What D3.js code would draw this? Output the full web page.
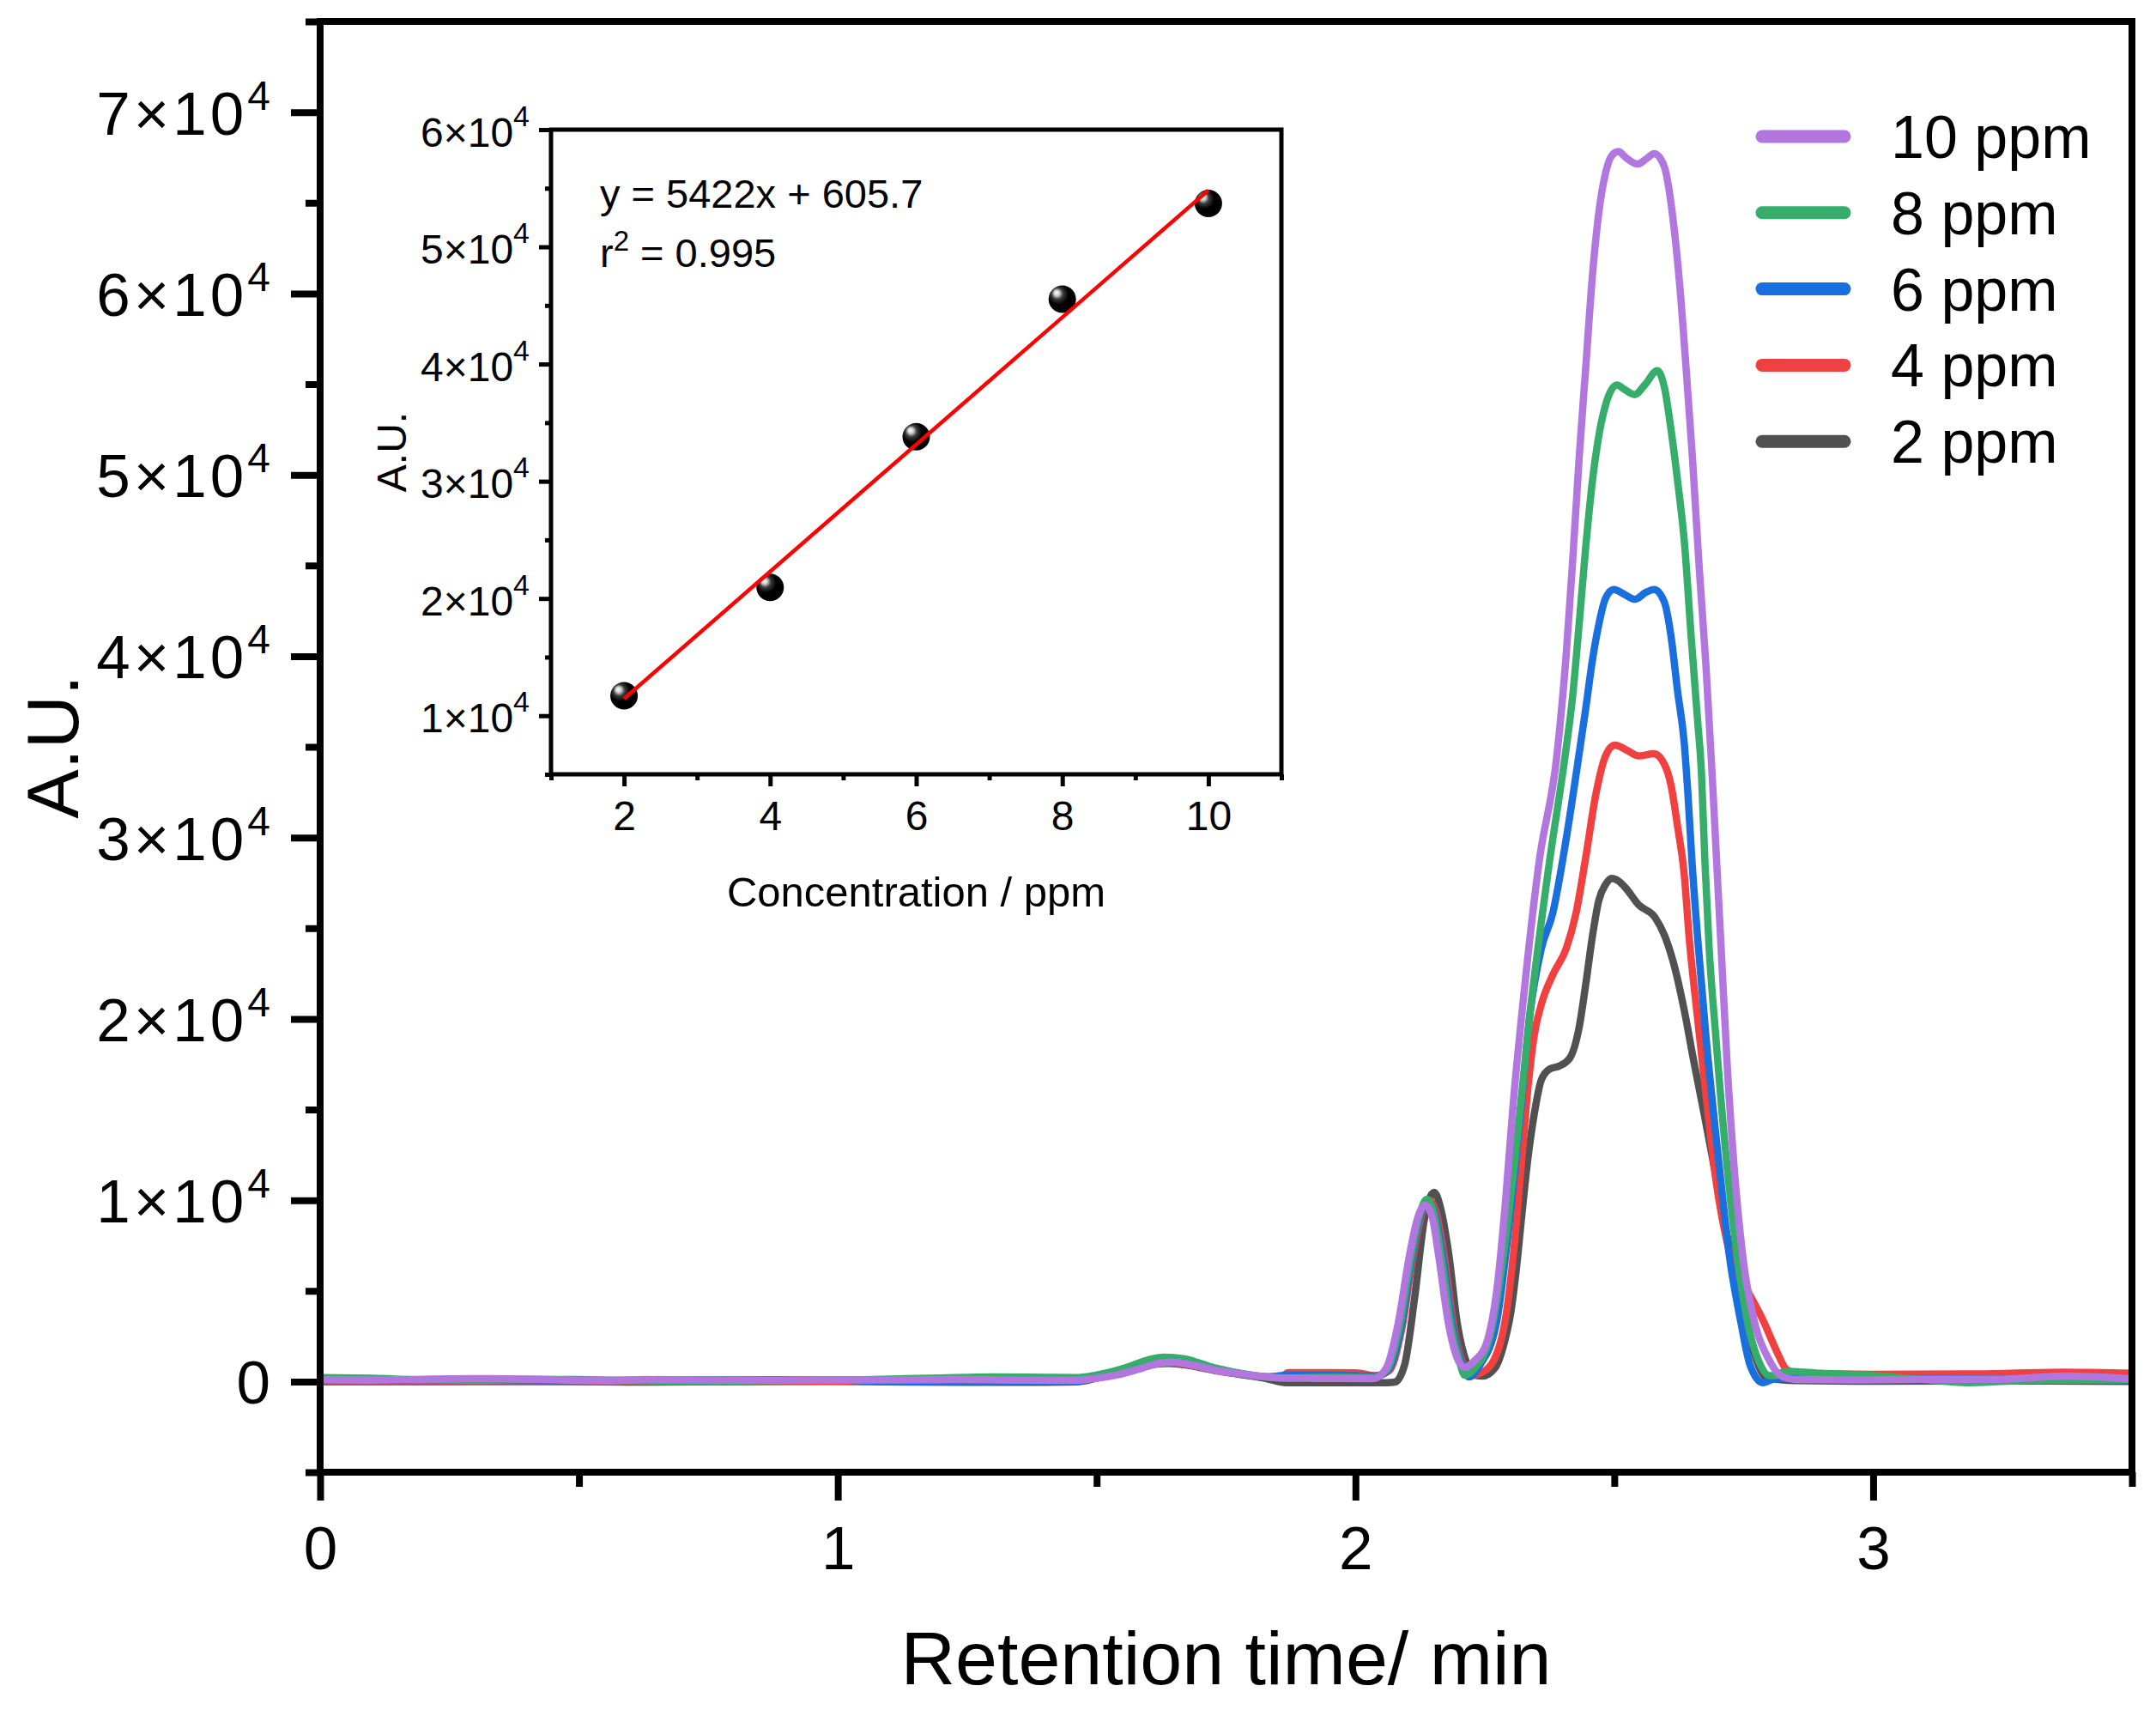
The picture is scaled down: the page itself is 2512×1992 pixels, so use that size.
<!DOCTYPE html>
<html>
<head>
<meta charset="utf-8">
<script src="https://cdn.jsdelivr.net/npm/d3@7"></script>
<style>
  html, body { margin: 0; padding: 0; background: #fff; }
  svg { display: block; font-family: "Liberation Sans", Arial, sans-serif; }
</style>
</head>
<body>
<div id="chart"></div>
<script>
// ---- Chromatogram data: [retention time (min), signal (A.U.)] ----
const ppm10 = [
  [0, 100], [0.1, 80], [0.2, 130], [0.3, 160], [0.4, 140], [0.5, 70], [0.56, 40], [0.63, 110],
  [0.72, 90], [0.9, 80], [1.1, 90], [1.25, 110], [1.36, 80], [1.46, 70], [1.5, 180], [1.54, 365],
  [1.59, 760], [1.62, 1000], [1.645, 1075], [1.69, 880], [1.733, 600], [1.78, 420], [1.816, 290],
  [1.866, 190], [1.95, 170], [2.035, 160], [2.06, 770], [2.082, 3140], [2.105, 7070], [2.121, 9100],
  [2.135, 9720], [2.148, 9100], [2.16, 7070], [2.18, 3140], [2.197, 1250], [2.211, 770], [2.23, 1150],
  [2.252, 2020], [2.275, 5510], [2.29, 10000], [2.305, 15420], [2.324, 20990], [2.355, 28710],
  [2.389, 34500], [2.407, 40070], [2.419, 45000], [2.432, 50900], [2.445, 56000], [2.458, 61080],
  [2.47, 64440], [2.483, 66630], [2.495, 67600], [2.508, 67830], [2.522, 67500], [2.545, 67140],
  [2.563, 67450], [2.577, 67710], [2.59, 67400], [2.598, 66860], [2.613, 64210], [2.626, 60580],
  [2.639, 55750], [2.651, 50920], [2.664, 44890], [2.677, 39500], [2.688, 34000], [2.698, 28500],
  [2.708, 23000], [2.718, 17500], [2.731, 12000], [2.75, 6500], [2.769, 3500], [2.797, 1300],
  [2.826, 250], [2.85, 110], [2.95, 90], [3.1, 120], [3.25, 130], [3.37, 300], [3.43, 250], [3.5, 150]
];
const ppm8 = [
  [0, 220], [0.1, 180], [0.2, 90], [0.3, 70], [0.4, 110], [0.5, 110], [0.58, 60], [0.7, 20],
  [0.8, 30], [0.9, 60], [1.05, 100], [1.2, 200], [1.3, 250], [1.4, 230], [1.46, 220], [1.51, 420],
  [1.56, 800], [1.6, 1200], [1.63, 1340], [1.67, 1250], [1.72, 820], [1.78, 450], [1.83, 240],
  [1.87, 190], [1.95, 240], [2.035, 220], [2.062, 700], [2.085, 3000], [2.108, 7000], [2.125, 9300],
  [2.138, 10050], [2.151, 9300], [2.165, 7000], [2.185, 3000], [2.2, 1200], [2.211, 350], [2.229, 680],
  [2.261, 2620], [2.286, 6980], [2.311, 13000], [2.337, 20250], [2.375, 28710], [2.405, 34500],
  [2.419, 37650], [2.432, 41740], [2.445, 46080], [2.458, 49720], [2.47, 52140], [2.483, 53840],
  [2.505, 54950], [2.52, 54700], [2.539, 54420], [2.56, 55000], [2.583, 55750], [2.597, 54790],
  [2.609, 52610], [2.622, 49720], [2.636, 46080], [2.648, 41260], [2.661, 36420], [2.668, 33770],
  [2.675, 28700], [2.683, 24000], [2.696, 19050], [2.718, 11810], [2.737, 6980], [2.757, 3340],
  [2.782, 930], [2.8, 320], [2.81, 320], [2.83, 560], [2.9, 450], [2.97, 380], [3.09, 120],
  [3.19, -60], [3.3, 65], [3.5, 100]
];
const ppm6 = [
  [0, 60], [0.15, 70], [0.3, 60], [0.45, 40], [0.6, 80], [0.8, 100], [1.0, 90], [1.1, -20],
  [1.25, -30], [1.35, 20], [1.46, 20], [1.51, 330], [1.56, 700], [1.6, 1000], [1.64, 1100],
  [1.68, 950], [1.73, 650], [1.78, 400], [1.83, 250], [1.87, 350], [1.95, 350], [2.04, 300],
  [2.065, 700], [2.088, 3000], [2.11, 7000], [2.127, 9300], [2.14, 9950], [2.153, 9300],
  [2.168, 7000], [2.188, 3000], [2.205, 1000], [2.219, 250], [2.241, 930], [2.273, 3340],
  [2.295, 8180], [2.317, 14220], [2.337, 20250], [2.359, 23870], [2.381, 25820], [2.407, 29910],
  [2.433, 34800], [2.445, 37150], [2.458, 39830], [2.47, 41740], [2.483, 43190], [2.499, 43680],
  [2.52, 43400], [2.54, 43140], [2.56, 43500], [2.577, 43680], [2.597, 42950], [2.61, 41010],
  [2.622, 38120], [2.635, 35230], [2.642, 32500], [2.65, 28710], [2.662, 24110], [2.677, 19050],
  [2.703, 11810], [2.722, 6980], [2.744, 3340], [2.762, 930], [2.787, -60], [2.81, 150],
  [2.9, 200], [3.0, 180], [3.2, 150], [3.4, 80], [3.5, 60]
];
const ppm4 = [
  [0, 0], [0.15, -20], [0.3, 0], [0.45, -10], [0.6, 20], [0.75, -20], [0.9, 10], [1.05, -10],
  [1.2, 30], [1.35, 50], [1.46, 40], [1.51, 300], [1.56, 650], [1.6, 950], [1.64, 1050],
  [1.68, 900], [1.73, 620], [1.78, 400], [1.83, 260], [1.858, 300], [1.87, 490], [1.95, 490],
  [2.0, 480], [2.04, 330], [2.065, 600], [2.09, 3000], [2.112, 7000], [2.13, 9400], [2.143, 10000],
  [2.156, 9300], [2.171, 7000], [2.19, 3000], [2.207, 1000], [2.222, 320], [2.254, 680],
  [2.286, 2860], [2.305, 6980], [2.32, 11810], [2.333, 16160], [2.345, 19050], [2.361, 20990],
  [2.381, 22420], [2.407, 23870], [2.426, 25820], [2.445, 28940], [2.464, 32330], [2.483, 34500],
  [2.501, 35100], [2.525, 34800], [2.547, 34500], [2.576, 34620], [2.597, 34020], [2.61, 32820],
  [2.622, 30650], [2.635, 27980], [2.645, 24350], [2.66, 20250], [2.674, 16630], [2.693, 11810],
  [2.724, 6980], [2.757, 5040], [2.788, 3340], [2.814, 1650], [2.832, 680], [2.85, 450],
  [3.0, 400], [3.2, 420], [3.37, 520], [3.42, 500], [3.5, 450]
];
const ppm2 = [
  [0, -20], [0.2, -10], [0.4, 20], [0.6, -30], [0.8, -10], [1.0, 20], [1.2, -30], [1.4, -40],
  [1.46, -20], [1.51, 250], [1.56, 600], [1.6, 900], [1.64, 1000], [1.68, 880], [1.73, 600],
  [1.78, 380], [1.83, 150], [1.866, -60], [1.95, -60], [2.06, -60], [2.076, -30], [2.095, 930],
  [2.114, 4560], [2.133, 8920], [2.152, 10430], [2.165, 9500], [2.18, 7070], [2.197, 3140],
  [2.215, 1000], [2.226, 400], [2.245, 300], [2.27, 770], [2.288, 2200], [2.3, 3800], [2.31, 6000],
  [2.32, 8800], [2.333, 12280], [2.345, 14690], [2.359, 16630], [2.375, 17230], [2.394, 17400],
  [2.414, 17830], [2.432, 19520], [2.445, 21940], [2.458, 24600], [2.47, 26530], [2.483, 27400],
  [2.495, 27740], [2.508, 27600], [2.521, 27250], [2.547, 26290], [2.579, 25580], [2.597, 24600],
  [2.616, 22910], [2.635, 20490], [2.654, 17590], [2.674, 14690], [2.693, 11810], [2.712, 8920],
  [2.731, 6240], [2.75, 3820], [2.769, 1650], [2.795, 200], [2.85, 50], [3.0, 20], [3.3, 30], [3.5, 0]
];

// Series in drawing order (last one ends on top)
const seriesNames = ["2 ppm", "4 ppm", "6 ppm", "8 ppm", "10 ppm"];
const seriesData = [ppm2, ppm4, ppm6, ppm8, ppm10];
const seriesColors = ["#515151", "#F14040", "#1A6FDF", "#37AD6B", "#B177DE"];

// Main axes
const xDomain = [0, 3.5];
const yDomain = [-5000, 75000];
const xMajor = [0, 1, 2, 3];
const xMinor = [0.5, 1.5, 2.5, 3.5];
const yMajor = [0, 10000, 20000, 30000, 40000, 50000, 60000, 70000];
const yMinor = [-5000, 5000, 15000, 25000, 35000, 45000, 55000, 65000, 75000];

// Calibration inset
const calConc = [2, 4, 6, 8, 10];
const calArea = [11700, 20950, 33800, 45540, 53700];
const fitSlope = 5422;
const fitIntercept = 605.7;
const insetXDomain = [1, 11];
const insetYDomain = [5000, 60000];
const insetXMajor = [2, 4, 6, 8, 10];
const insetXMinor = [1, 3, 5, 7, 9, 11];
const insetYMajor = [10000, 20000, 30000, 40000, 50000, 60000];
const insetYMinor = [5000, 15000, 25000, 35000, 45000, 55000];

const W = 2512, H = 1992;
const svg = d3.select("#chart").append("svg")
  .attr("width", W)
  .attr("height", H);

const defs = svg.append("defs");

// ---- main plot ----
const plot = { left: 373, right: 2484, top: 25, bottom: 1715 };

const x = d3.scaleLinear().domain(xDomain).range([plot.left, plot.right]);
const y = d3.scaleLinear().domain(yDomain).range([plot.bottom, plot.top]);

defs.append("clipPath").attr("id", "plotClip")
  .append("rect")
  .attr("x", plot.left).attr("y", plot.top)
  .attr("width", plot.right - plot.left)
  .attr("height", plot.bottom - plot.top);

// "n×10^4" labels with a raised exponent
function sciLabel(text, v, supShift, supSize) {
  text.text(null);
  if (v === 0) { text.text("0"); return; }
  text.append("tspan").text((v / 10000) + "×10");
  text.append("tspan").attr("dy", supShift).attr("font-size", supSize).text("4");
}

function styleAxis(g, width, fontSize) {
  g.select(".domain").remove();
  g.selectAll(".tick line").attr("stroke", "#000").attr("stroke-width", width);
  g.attr("font-family", null).attr("font-size", fontSize);
  g.selectAll(".tick text").attr("fill", "#000");
}

// Data lines
const line = d3.line()
  .x(d => x(d[0]))
  .y(d => y(d[1]))
  .curve(d3.curveMonotoneX);

const lines = svg.append("g").attr("clip-path", "url(#plotClip)");
seriesData.forEach((data, i) => {
  lines.append("path")
    .datum(data)
    .attr("fill", "none")
    .attr("stroke", seriesColors[i])
    .attr("stroke-width", 8.5)
    .attr("stroke-linejoin", "round")
    .attr("d", line);
});

// Axes
const yAxisG = svg.append("g")
  .attr("transform", `translate(${plot.left},0)`)
  .call(d3.axisLeft(y).tickValues(yMajor).tickSize(34).tickPadding(20));
styleAxis(yAxisG, 8, 71);
yAxisG.selectAll(".tick text")
  .attr("dy", "0.36em")
  .attr("letter-spacing", 4)
  .each(function(d) { sciLabel(d3.select(this), d, -29, 48); });

const yMinorG = svg.append("g")
  .attr("transform", `translate(${plot.left},0)`)
  .call(d3.axisLeft(y).tickValues(yMinor).tickSize(17).tickFormat(""));
styleAxis(yMinorG, 8, 71);

const xAxisG = svg.append("g")
  .attr("transform", `translate(0,${plot.bottom})`)
  .call(d3.axisBottom(x).tickValues(xMajor).tickSize(33).tickPadding(30).tickFormat(d3.format("d")));
styleAxis(xAxisG, 8, 71);

const xMinorG = svg.append("g")
  .attr("transform", `translate(0,${plot.bottom})`)
  .call(d3.axisBottom(x).tickValues(xMinor).tickSize(17).tickFormat(""));
styleAxis(xMinorG, 8, 71);

// Frame
svg.append("rect")
  .attr("x", plot.left).attr("y", plot.top)
  .attr("width", plot.right - plot.left)
  .attr("height", plot.bottom - plot.top)
  .attr("fill", "none")
  .attr("stroke", "#000")
  .attr("stroke-width", 8);

// Axis titles
svg.append("text")
  .attr("x", (plot.left + plot.right) / 2)
  .attr("y", 1962)
  .attr("text-anchor", "middle")
  .attr("font-size", 88)
  .text("Retention time/ min");

svg.append("text")
  .attr("transform", `translate(91,${(plot.top + plot.bottom) / 2}) rotate(-90)`)
  .attr("text-anchor", "middle")
  .attr("font-size", 86)
  .text("A.U.");

// Legend (top entry is the last series)
const legend = svg.append("g").attr("transform", "translate(2053,159)");
const legendOrder = d3.range(seriesNames.length).reverse();
legendOrder.forEach((si, row) => {
  const item = legend.append("g").attr("transform", `translate(0,${row * 88.8})`);
  item.append("line")
    .attr("x1", 0).attr("x2", 96)
    .attr("stroke", seriesColors[si])
    .attr("stroke-width", 15)
    .attr("stroke-linecap", "round");
  item.append("text")
    .attr("x", 150)
    .attr("y", 25)
    .attr("font-size", 70)
    .text(seriesNames[si]);
});

// ---- calibration inset ----
const inset = { left: 642, right: 1493, top: 151, bottom: 902 };
const ix = d3.scaleLinear().domain(insetXDomain).range([inset.left, inset.right]);
const iy = d3.scaleLinear().domain(insetYDomain).range([inset.bottom, inset.top]);

svg.append("rect")
  .attr("x", inset.left).attr("y", inset.top)
  .attr("width", inset.right - inset.left)
  .attr("height", inset.bottom - inset.top)
  .attr("fill", "#fff");

const iyAxisG = svg.append("g")
  .attr("transform", `translate(${inset.left},0)`)
  .call(d3.axisLeft(iy).tickValues(insetYMajor).tickSize(14).tickPadding(11));
styleAxis(iyAxisG, 5, 48);
iyAxisG.selectAll(".tick text")
  .attr("dy", "0.4em")
  .each(function(d) { sciLabel(d3.select(this), d, -24, 34); });

const iyMinorG = svg.append("g")
  .attr("transform", `translate(${inset.left},0)`)
  .call(d3.axisLeft(iy).tickValues(insetYMinor).tickSize(7).tickFormat(""));
styleAxis(iyMinorG, 5, 48);

const ixAxisG = svg.append("g")
  .attr("transform", `translate(0,${inset.bottom})`)
  .call(d3.axisBottom(ix).tickValues(insetXMajor).tickSize(14).tickPadding(17).tickFormat(d3.format("d")));
styleAxis(ixAxisG, 5, 48);

const ixMinorG = svg.append("g")
  .attr("transform", `translate(0,${inset.bottom})`)
  .call(d3.axisBottom(ix).tickValues(insetXMinor).tickSize(7).tickFormat(""));
styleAxis(ixMinorG, 5, 48);

svg.append("rect")
  .attr("x", inset.left).attr("y", inset.top)
  .attr("width", inset.right - inset.left)
  .attr("height", inset.bottom - inset.top)
  .attr("fill", "none")
  .attr("stroke", "#000")
  .attr("stroke-width", 5);

// Shaded sphere markers
const ball = defs.append("radialGradient")
  .attr("id", "ball")
  .attr("cx", "40%").attr("cy", "38%").attr("r", "62%")
  .attr("fx", "28%").attr("fy", "26%");
ball.append("stop").attr("offset", "0%").attr("stop-color", "#ffffff");
ball.append("stop").attr("offset", "16%").attr("stop-color", "#cfcfcf");
ball.append("stop").attr("offset", "34%").attr("stop-color", "#3a3a3a");
ball.append("stop").attr("offset", "60%").attr("stop-color", "#000000");
ball.append("stop").attr("offset", "100%").attr("stop-color", "#000000");

svg.append("g").selectAll("circle")
  .data(calConc)
  .enter().append("circle")
  .attr("cx", d => ix(d))
  .attr("cy", (d, i) => iy(calArea[i]))
  .attr("r", 16)
  .attr("fill", "url(#ball)");

// Linear fit
const fitX = d3.extent(calConc);
svg.append("line")
  .attr("x1", ix(fitX[0]))
  .attr("y1", iy(fitSlope * fitX[0] + fitIntercept))
  .attr("x2", ix(fitX[1]))
  .attr("y2", iy(fitSlope * fitX[1] + fitIntercept))
  .attr("stroke", "#FF0000")
  .attr("stroke-width", 4.5);

// Fit annotation
svg.append("text")
  .attr("x", 699).attr("y", 242)
  .attr("font-size", 47)
  .text(`y = ${fitSlope}x + ${fitIntercept}`);

const r2 = svg.append("text")
  .attr("x", 699).attr("y", 311)
  .attr("font-size", 47);
r2.append("tspan").text("r");
r2.append("tspan").attr("dy", -19).attr("font-size", 33).text("2");
r2.append("tspan").attr("dy", 19).text(" = 0.995");

// Inset axis titles
svg.append("text")
  .attr("x", (inset.left + inset.right) / 2)
  .attr("y", 1056)
  .attr("text-anchor", "middle")
  .attr("font-size", 49)
  .text("Concentration / ppm");

svg.append("text")
  .attr("transform", `translate(473,${(inset.top + inset.bottom) / 2}) rotate(-90)`)
  .attr("text-anchor", "middle")
  .attr("font-size", 48)
  .text("A.U.");
</script>
</body>
</html>
